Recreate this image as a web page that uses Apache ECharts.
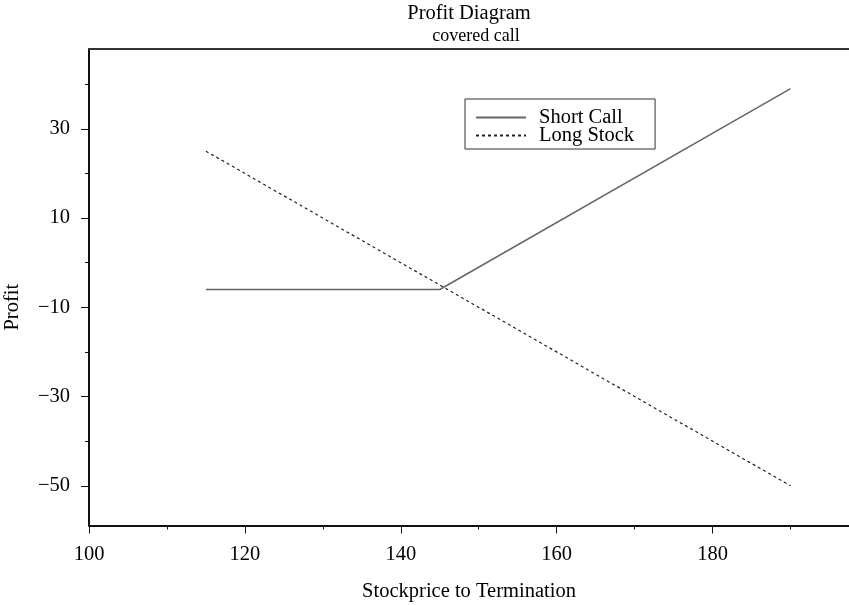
<!DOCTYPE html>
<html>
<head>
    <meta charset="utf-8">
    <title>Profit Diagram</title>
    <script type="text/javascript" src="https://cdn.jsdelivr.net/npm/echarts@6/dist/echarts.min.js"></script>
    <style>
        html, body { margin: 0; padding: 0; background: #fff; }
    </style>
</head>
<body>
<div id="container" style="width: 849px; height: 605px"></div>
<script type="text/javascript">
    // 数据
    var shortCallX = [115, 145, 190];
    var shortCallY = [-6, -6, 39];
    var longStockX = [115, 190];
    var longStockY = [25, -50];

    var xMajorTicks = [100, 120, 140, 160, 180];
    var xMinorTicks = [110, 130, 150, 170, 190];
    var yMajorTicks = [-50, -30, -10, 10, 30];
    var yMinorTicks = [-40, -20, 0, 20, 40];

    function pairs(xs, ys) {
        var out = [];
        for (var i = 0; i < xs.length; i++) {
            out.push([xs[i], ys[i]]);
        }
        return out;
    }

    var font = 'Liberation Serif';
    var fs = 20.5;
    var dom = document.getElementById('container');
    var myChart = echarts.init(dom, null, { renderer: 'canvas' });

    var option = {
        animation: false,
        title: [
            {
                text: 'Profit Diagram',
                left: 469,
                textAlign: 'center',
                top: 3,
                padding: 0,
                textStyle: { fontFamily: font, fontSize: fs, fontWeight: 'normal', color: '#000' }
            },
            {
                text: 'covered call',
                left: 476,
                textAlign: 'center',
                top: 27,
                padding: 0,
                textStyle: { fontFamily: font, fontSize: 18, fontWeight: 'normal', color: '#000' }
            }
        ],
        legend: {
            orient: 'vertical',
            left: 465,
            top: 99,
            padding: [8, 21, 3, 10],
            borderColor: '#333',
            borderWidth: 1,
            itemWidth: 50,
            itemHeight: 18,
            itemGap: -3,
            itemStyle: { opacity: 0 },
            textStyle: { fontFamily: font, fontSize: fs, lineHeight: 18, color: '#000', padding: [0, 0, 0, 8] },
            data: ['Short Call', 'Long Stock']
        },
        grid: {
            left: 89,
            right: 0,
            top: 49,
            bottom: 79.5,
            outerBoundsMode: 'none'
        },
        xAxis: [
            {
                type: 'value',
                min: 100,
                max: 197.5,
                name: 'Stockprice to Termination',
                nameLocation: 'middle',
                nameGap: 56,
                nameTextStyle: { fontFamily: font, fontSize: fs, color: '#000', verticalAlign: 'top' },
                axisLine: { onZero: false, lineStyle: { color: '#111', width: 2 } },
                axisTick: { inside: false, length: 8, lineStyle: { color: '#111' }, customValues: xMajorTicks },
                axisLabel: { margin: 19, fontFamily: font, fontSize: fs, color: '#000', customValues: xMajorTicks },
                splitLine: { show: false }
            },
            {
                type: 'value',
                position: 'bottom',
                min: 100,
                max: 197.5,
                axisLine: { show: false, onZero: false },
                axisTick: { length: 4, lineStyle: { color: '#111' }, customValues: xMinorTicks },
                axisLabel: { show: false },
                splitLine: { show: false }
            },
            {
                type: 'value',
                position: 'top',
                min: 100,
                max: 197.5,
                axisLine: { show: true, onZero: false, lineStyle: { color: '#333', width: 2 } },
                axisTick: { show: false },
                axisLabel: { show: false },
                splitLine: { show: false }
            }
        ],
        yAxis: [
            {
                type: 'value',
                min: -58.9,
                max: 47.9,
                name: 'Profit',
                nameLocation: 'middle',
                nameGap: 66,
                nameTextStyle: { fontFamily: font, fontSize: fs, color: '#000', padding: [0, 40, 0, 0] },
                axisLine: { show: true, onZero: false, lineStyle: { color: '#111', width: 2 } },
                axisTick: { show: true, length: 8, lineStyle: { color: '#111' }, customValues: yMajorTicks },
                axisLabel: { margin: 19, fontFamily: font, fontSize: fs, color: '#000', customValues: yMajorTicks,
                    formatter: function (v) { return String(v).replace('-', '\u2212'); } },
                splitLine: { show: false }
            },
            {
                type: 'value',
                position: 'left',
                min: -58.9,
                max: 47.9,
                axisLine: { show: false, onZero: false },
                axisTick: { show: true, length: 4, lineStyle: { color: '#111' }, customValues: yMinorTicks },
                axisLabel: { show: false },
                splitLine: { show: false }
            }
        ],
        series: [
            {
                name: 'Short Call',
                type: 'line',
                xAxisIndex: 0,
                yAxisIndex: 0,
                symbol: 'none',
                data: pairs(shortCallX, shortCallY),
                lineStyle: { color: '#666', width: 1.5 },
                itemStyle: { color: '#666' }
            },
            {
                name: 'Long Stock',
                type: 'line',
                xAxisIndex: 0,
                yAxisIndex: 0,
                symbol: 'none',
                data: pairs(longStockX, longStockY),
                lineStyle: { color: '#222', width: 1.2, type: [3, 3] },
                itemStyle: { color: '#222' }
            }
        ]
    };

    if (option && typeof option === 'object') {
        myChart.setOption(option);
    }

    window.addEventListener('resize', myChart.resize);
</script>
</body>
</html>
